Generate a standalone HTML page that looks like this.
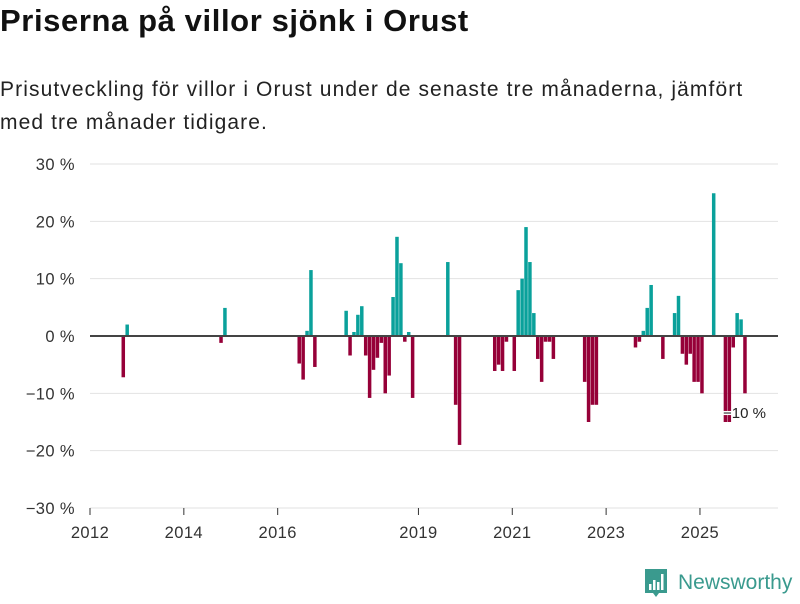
<!DOCTYPE html>
<html><head><meta charset="utf-8"><style>
body{margin:0;background:#fff;font-family:"Liberation Sans","DejaVu Sans",sans-serif;}
#wrap{position:relative;width:800px;height:600px;overflow:hidden;}
h1{position:absolute;left:0;top:3px;margin:0;font-size:31px;font-weight:bold;color:#111;letter-spacing:0.6px;white-space:nowrap;}
p{position:absolute;left:0;top:73px;margin:0;font-size:21px;line-height:33px;color:#222;width:800px;letter-spacing:1.1px;white-space:nowrap;}
</style></head><body>
<div id="wrap">
<h1>Priserna på villor sjönk i Orust</h1>
<p>Prisutveckling för villor i Orust under de senaste tre månaderna, jämfört<br>med tre månader tidigare.</p>
<svg id="chart" width="800" height="600" style="position:absolute;left:0;top:0"></svg>
</div>
<script>
// month index since Jan 2012
const months = [8,9,33,34,53,54,55,56,57,65,66,67,68,69,70,71,72,73,74,75,76,77,78,79,80,81,82,91,93,94,103,104,105,106,108,109,110,111,112,113,114,115,116,117,118,126,127,128,129,139,140,141,142,143,146,149,150,151,152,153,154,155,156,159,162,163,164,165,166,167];
const values = [-7.2,2.0,-1.2,4.9,-4.8,-7.6,0.9,11.5,-5.4,4.4,-3.4,0.7,3.7,5.2,-3.4,-10.8,-5.9,-3.8,-1.2,-10,-6.9,6.8,17.3,12.7,-1,0.7,-10.8,12.9,-12,-19,-6.1,-5.0,-6.1,-1,-6.1,8.0,10,19.0,12.9,4.0,-4.0,-8.0,-1,-1,-4,-8.0,-15,-12,-12,-2,-1,0.9,4.9,8.9,-4,4.0,7.0,-3.1,-5,-3.1,-8,-8,-10,24.9,-15,-15,-2,4.0,2.9,-10];
const yTicks = [30,20,10,0,-10,-20,-30];
const xTickYears = [2012,2014,2016,2019,2021,2023,2025];
const lastLabel = "−10 %";

const svg = document.getElementById('chart');
const NS = 'http://www.w3.org/2000/svg';
function yS(v){return 336 - v*5.733;}
function xS(m){return 92 + m*3.91;}
function xYear(y){return 90 + (y-2012)*46.92;}
function mk(t,a){const e=document.createElementNS(NS,t);for(const k in a)e.setAttribute(k,a[k]);svg.appendChild(e);return e;}
yTicks.forEach(v=>{
  const g=mk('line',{x1:90,x2:778,y1:yS(v),y2:yS(v),stroke:'#e2e2e2','stroke-width':1});
  
  
  const t=mk('text',{x:75,y:yS(v)+6,'text-anchor':'end','font-size':16.5,fill:'#333','font-family':'Liberation Sans, sans-serif','letter-spacing':'0.4'});
  t.textContent=(v<0?'−'+(-v):v)+' %';
  
  
});
months.forEach((m,i)=>{
  const v=values[i];
  const r=mk('rect',{x:xS(m)-1.75,width:3.5,y:v>=0?yS(v):yS(0),height:Math.abs(yS(v)-yS(0)),fill:v>=0?'#0aa19b':'#960038'});
  
  
});
const z=mk('line',{x1:90,x2:778,y1:yS(0),y2:yS(0),stroke:'#444','stroke-width':2});


xTickYears.forEach(y=>{
  const x=xYear(y);
  const l=mk('line',{x1:x,x2:x,y1:508,y2:515,stroke:'#333','stroke-width':1});
  
  
  const t=mk('text',{x:x,y:538,'text-anchor':'middle','font-size':16.5,fill:'#333','font-family':'Liberation Sans, sans-serif','letter-spacing':'0.4'});
  t.textContent=y;
  
  
});
const lbl=mk('text',{x:723,y:418,'font-size':15,fill:'#222','font-family':'Liberation Sans, sans-serif',stroke:'#fff','stroke-width':3,'paint-order':'stroke'});
lbl.textContent=lastLabel;


</script>
<svg width="160" height="40" style="position:absolute;left:642px;top:564px">
<path d="M3 5h22v24h-8l-3 4-3-4H3z" fill="#3a9a8e"/>
<rect x="7" y="20" width="2.5" height="6" fill="#fff"/><rect x="11" y="16" width="2.5" height="10" fill="#fff"/><rect x="15" y="18" width="2.5" height="8" fill="#fff"/><rect x="19" y="10" width="2.5" height="16" fill="#fff"/>
<text x="36" y="25" font-size="21" fill="#3a9a8e" font-family="Liberation Sans, sans-serif">Newsworthy</text>
</svg>
</body></html>
